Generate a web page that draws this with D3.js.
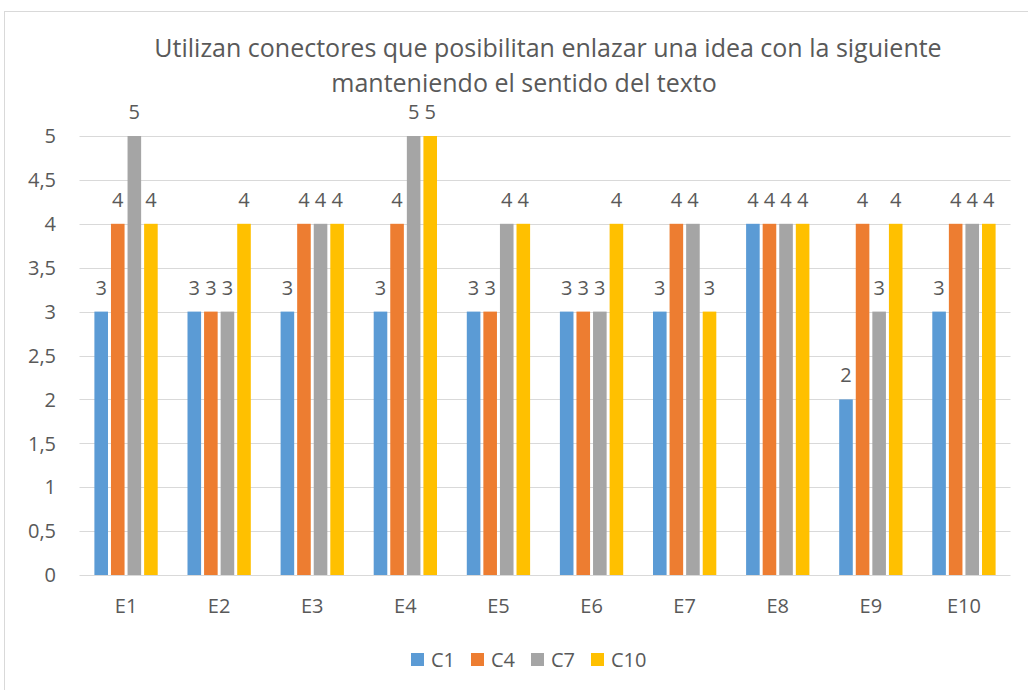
<!doctype html>
<html>
<head>
<style>
body { margin:0; background:#fff; }
svg text { font-family: "Open Sans", "Liberation Sans", sans-serif; fill:#595959; }
</style>
<script src="https://d3js.org/d3.v7.min.js"></script>
</head>
<body>
<script>
var categories = ["E1","E2","E3","E4","E5","E6","E7","E8","E9","E10"];
var seriesNames = ["C1","C4","C7","C10"];
var C1  = [3,3,3,3,3,3,3,4,2,3];
var C4  = [4,3,4,4,3,3,4,4,4,4];
var C7  = [5,3,4,5,4,3,4,4,3,4];
var C10 = [4,4,4,5,4,4,3,4,4,4];
var yTicks = [0,0.5,1,1.5,2,2.5,3,3.5,4,4.5,5];
var colors = ["#5b9bd5","#ed7d31","#a5a5a5","#ffc000"];

var series = [C1, C4, C7, C10];
var width = 1028, height = 690;
var plotLeft = 79.5, plotRight = 1010.5, plotTop = 136, plotBottom = 575;

var svg = d3.select("body").append("svg")
   .attr("width", width).attr("height", height);

// chart border
svg.append("rect")
   .attr("x", 4.5).attr("y", 11.5)
   .attr("width", 1030).attr("height", 690)
   .attr("fill", "none").attr("stroke", "#d9d9d9");

var x = d3.scaleBand().domain(categories).range([plotLeft, plotRight]);
var x1 = d3.scaleBand().domain(seriesNames)
   .range([x.bandwidth()*0.16, x.bandwidth()*0.84]).paddingInner(0.18);
var y = d3.scaleLinear().domain([0,5]).range([plotBottom, plotTop]);

// gridlines
svg.append("g").selectAll("line")
   .data(yTicks.filter(function(d){ return d > 0; }))
   .enter().append("line")
   .attr("x1", plotLeft).attr("x2", plotRight)
   .attr("y1", function(d){ return Math.round(y(d)) + 0.5; })
   .attr("y2", function(d){ return Math.round(y(d)) + 0.5; })
   .attr("stroke", "#d9d9d9").attr("stroke-width", 1);

// y tick labels
svg.append("g").selectAll("text")
   .data(yTicks).enter().append("text")
   .attr("x", 56).attr("y", function(d){ return y(d); })
   .attr("dy", "0.36em").attr("text-anchor", "end")
   .attr("font-size", 20)
   .text(function(d){ return String(d).replace(".", ","); });

// bars
var groups = svg.append("g").selectAll("g")
   .data(categories).enter().append("g")
   .attr("transform", function(d){ return "translate(" + x(d) + ",0)"; });

groups.selectAll("rect")
   .data(function(d, i){ return series.map(function(s, j){ return {k: seriesNames[j], v: s[i], c: colors[j]}; }); })
   .enter().append("rect")
   .attr("x", function(d){ return x1(d.k); })
   .attr("width", x1.bandwidth())
   .attr("y", function(d){ return y(d.v); })
   .attr("height", function(d){ return y(0) - y(d.v); })
   .attr("fill", function(d){ return d.c; });

groups.selectAll("text")
   .data(function(d, i){ return series.map(function(s, j){ return {k: seriesNames[j], v: s[i]}; }); })
   .enter().append("text")
   .attr("x", function(d){ return x1(d.k) + x1.bandwidth()/2; })
   .attr("y", function(d){ return y(d.v) - 17; })
   .attr("text-anchor", "middle")
   .attr("font-size", 20)
   .text(function(d){ return d.v; });

// axis line
svg.append("line")
   .attr("x1", plotLeft).attr("x2", plotRight)
   .attr("y1", plotBottom + 0.5).attr("y2", plotBottom + 0.5)
   .attr("stroke", "#d9d9d9");

// x labels
svg.append("g").selectAll("text")
   .data(categories).enter().append("text")
   .attr("x", function(d){ return x(d) + x.bandwidth()/2; })
   .attr("y", 613)
   .attr("text-anchor", "middle")
   .attr("font-size", 20)
   .text(function(d){ return d; });

// title
var title = svg.append("text")
   .attr("text-anchor", "middle")
   .attr("font-size", 25);
title.append("tspan").attr("x", 548).attr("y", 57)
   .text("Utilizan conectores que posibilitan enlazar una idea con la siguiente");
title.append("tspan").attr("x", 524).attr("y", 92)
   .text("manteniendo el sentido del texto");

// legend
var legend = svg.append("g").selectAll("g")
   .data(seriesNames).enter().append("g")
   .attr("transform", function(d, i){ return "translate(" + (411 + i*60) + ",653)"; });
legend.append("rect").attr("width", 13).attr("height", 13)
   .attr("fill", function(d, i){ return colors[i]; });
legend.append("text").attr("x", 20).attr("y", 6.5).attr("dy", "0.36em")
   .attr("font-size", 20)
   .text(function(d){ return d; });
</script>
</body>
</html>
